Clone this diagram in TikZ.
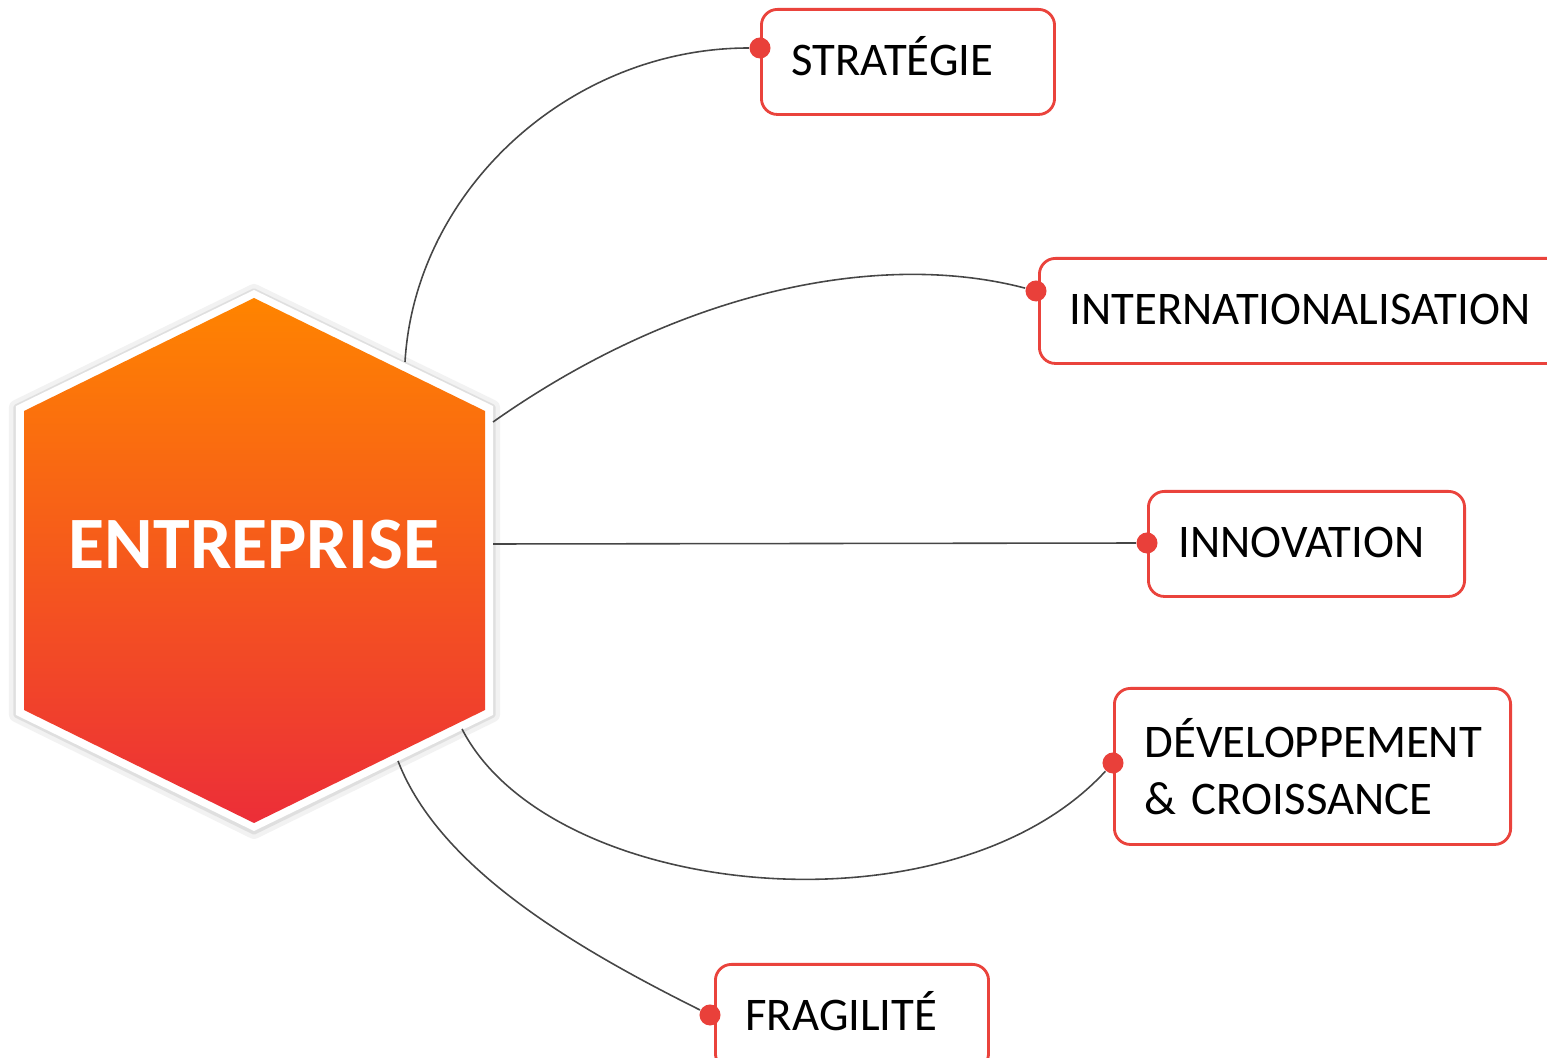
\documentclass[tikz,border=0pt]{standalone}
\usepackage{fontspec}
\setmainfont{Carlito}
\definecolor{boxred}{RGB}{234,67,60}
\definecolor{dotred}{RGB}{233,64,58}
\definecolor{linkgray}{RGB}{70,70,70}
\definecolor{hextop}{RGB}{255,132,0}
\definecolor{hexmid}{RGB}{233,86,34}
\definecolor{hexbot}{RGB}{236,46,56}
\tikzset{
  topic/.style={draw=boxred, line width=0.8pt, rounded corners=0.16cm, fill=white,
    anchor=north west, inner xsep=0.3cm, inner ysep=0pt, align=left,
    font=\fontsize{13.3}{16.2}\selectfont},
  pin/.style={circle, fill=dotred, inner sep=0pt, minimum size=0.21cm},
  link/.style={draw=linkgray, line width=0.45pt}
}
\begin{document}
\begin{tikzpicture}[x=0.01cm, y=-0.01cm]
  \useasboundingbox (0,0) rectangle (1547,1058);
  \clip (0,0) rectangle (1547,1058);

  % hexagon
  \draw[black, opacity=.05, line width=4pt, line join=round]
    (254,291) -- (16,407) -- (16,715) -- (254,832) -- (493,715) -- (493,407) -- cycle;
  \draw[black, opacity=.08, line width=1.5pt, line join=round]
    (254,291) -- (16,407) -- (16,715) -- (254,832) -- (493,715) -- (493,407) -- cycle;
  \fill[white] (254,290) -- (16,406) -- (16,715) -- (254,831) -- (493,715) -- (493,406) -- cycle;
  \shade[top color=hextop, middle color=hexmid, bottom color=hexbot]
    (254,298) -- (24,411) -- (24,710) -- (254,823) -- (485,710) -- (485,411) -- cycle;
  \node[text=white, font=\fontsize{21}{25}\selectfont\bfseries] (ent) at (254,545) {ENTREPRISE};

  \coordinate (h1) at (405,362);
  \coordinate (h2) at (493,422);
  \coordinate (h3) at (493,544);
  \coordinate (h4) at (462,729);
  \coordinate (h5) at (398,761);

  \begin{scope}[every node/.style={topic, text height=9.5pt, text depth=2pt}]
    \node[text width=2.33cm, minimum height=1.05cm] (strat) at (760,8)    {STRATÉGIE};
    \node[text width=4.80cm, minimum height=1.05cm] (inter) at (1038,257) {INTERNATIONALISATION};
    \node[text width=2.56cm, minimum height=1.05cm] (innov) at (1147,490) {INNOVATION};
    \node[text width=2.13cm, minimum height=1.05cm] (frag)  at (714,963)  {FRAGILITÉ};
  \end{scope}
  \node[topic, text width=3.36cm, minimum height=1.56cm] (dev) at (1113,687) {DÉVELOPPEMENT\\\& CROISSANCE};

  \begin{scope}[every node/.style={pin}]
    \node (p1) at (760,48)   {};
    \node (p2) at (1036,291) {};
    \node (p3) at (1147,543) {};
    \node (p4) at (1113,763) {};
    \node (p5) at (710,1015) {};
  \end{scope}

  \path[link] (h1) .. controls (415,190) and (570,48) .. (p1);
  \path[link] (h2) .. controls (680,290) and (880,250) .. (p2);
  \path[link] (h3) -- (p3);
  \path[link] (h4) .. controls (550,900) and (950,940) .. (p4);
  \path[link] (h5) .. controls (440,870) and (580,950) .. (p5);

\end{tikzpicture}
\end{document}
